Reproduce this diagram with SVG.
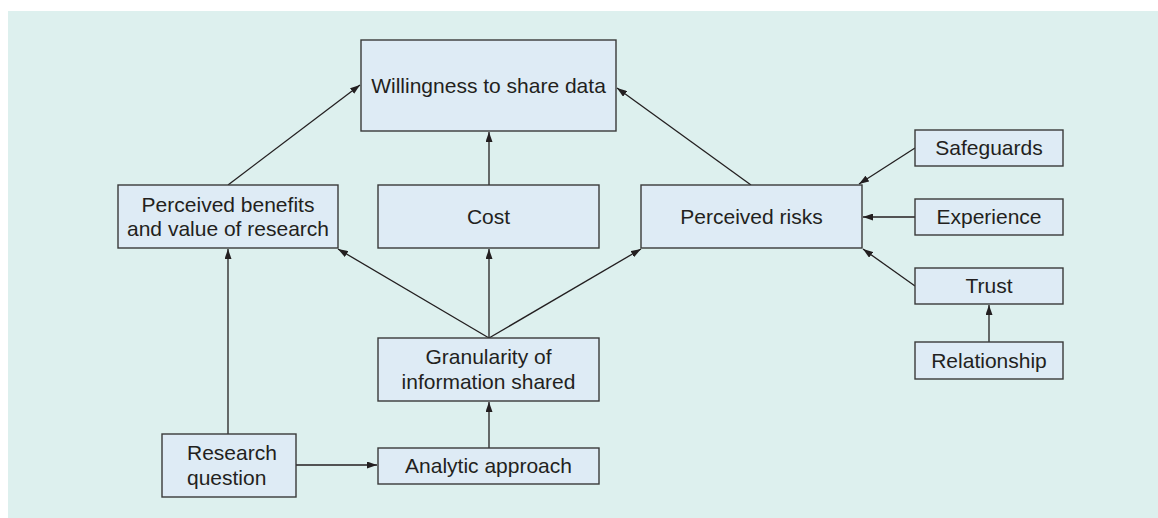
<svg xmlns="http://www.w3.org/2000/svg" width="1158" height="518" viewBox="0 0 1158 518">
<style>
.bg{fill:#ffffff}
.panel{fill:#ddf0ee}
.node rect{fill:#deebf5;stroke:#3a3a3a;stroke-width:1.4}
.node text{font-family:"Liberation Sans",Arial,sans-serif;font-size:21px;fill:#231f20;text-anchor:middle}
.conn line{stroke:#231f20;stroke-width:1.3;fill:none;marker-end:url(#ah)}
</style>
<defs>
<marker id="ah" markerWidth="10" markerHeight="7" refX="10" refY="3.5" orient="auto" markerUnits="userSpaceOnUse">
<path d="M0,0 L10,3.5 L0,7 z" fill="#231f20"/>
</marker>
</defs>
<rect class="bg" x="0" y="0" width="1158" height="518"/>
<rect class="panel" x="8" y="11" width="1150" height="507"/>

<g id="connectors" class="conn">
<line x1="228" y1="185" x2="360" y2="85"/>
<line x1="489" y1="185" x2="489" y2="132"/>
<line x1="751" y1="185" x2="617" y2="88"/>
<line x1="915" y1="148" x2="859" y2="184"/>
<line x1="915" y1="217" x2="863" y2="217"/>
<line x1="915" y1="286" x2="863" y2="249"/>
<line x1="989" y1="342" x2="989" y2="305"/>
<line x1="489" y1="338" x2="338" y2="249"/>
<line x1="489" y1="338" x2="489" y2="249"/>
<line x1="489" y1="338" x2="641" y2="249"/>
<line x1="489" y1="448" x2="489" y2="402"/>
<line x1="228" y1="434" x2="228" y2="249"/>
<line x1="296" y1="465" x2="377" y2="465"/>
</g>

<g id="willingness" class="node">
<rect x="361" y="40" width="255" height="91"/>
<text x="488.5" y="93">Willingness to share data</text>
</g>
<g id="benefits" class="node">
<rect x="118" y="185" width="220" height="63"/>
<text x="228" y="212">Perceived benefits</text>
<text x="228" y="236">and value of research</text>
</g>
<g id="cost" class="node">
<rect x="378" y="185" width="221" height="63"/>
<text x="488.5" y="224">Cost</text>
</g>
<g id="risks" class="node">
<rect x="641" y="185" width="221" height="63"/>
<text x="751.5" y="224">Perceived risks</text>
</g>
<g id="safeguards" class="node">
<rect x="915" y="130" width="148" height="36"/>
<text x="989" y="155">Safeguards</text>
</g>
<g id="experience" class="node">
<rect x="915" y="199" width="148" height="36"/>
<text x="989" y="224">Experience</text>
</g>
<g id="trust" class="node">
<rect x="915" y="268" width="148" height="36"/>
<text x="989" y="293">Trust</text>
</g>
<g id="relationship" class="node">
<rect x="915" y="342" width="148" height="37"/>
<text x="989" y="368">Relationship</text>
</g>
<g id="granularity" class="node">
<rect x="378" y="338" width="221" height="63"/>
<text x="488.5" y="364">Granularity of</text>
<text x="488.5" y="389">information shared</text>
</g>
<g id="analytic" class="node">
<rect x="378" y="448" width="221" height="36"/>
<text x="488.5" y="473">Analytic approach</text>
</g>
<g id="research" class="node">
<rect x="162" y="434" width="134" height="63"/>
<text x="187" y="460" style="text-anchor:start">Research</text>
<text x="187" y="485" style="text-anchor:start">question</text>
</g>
</svg>
